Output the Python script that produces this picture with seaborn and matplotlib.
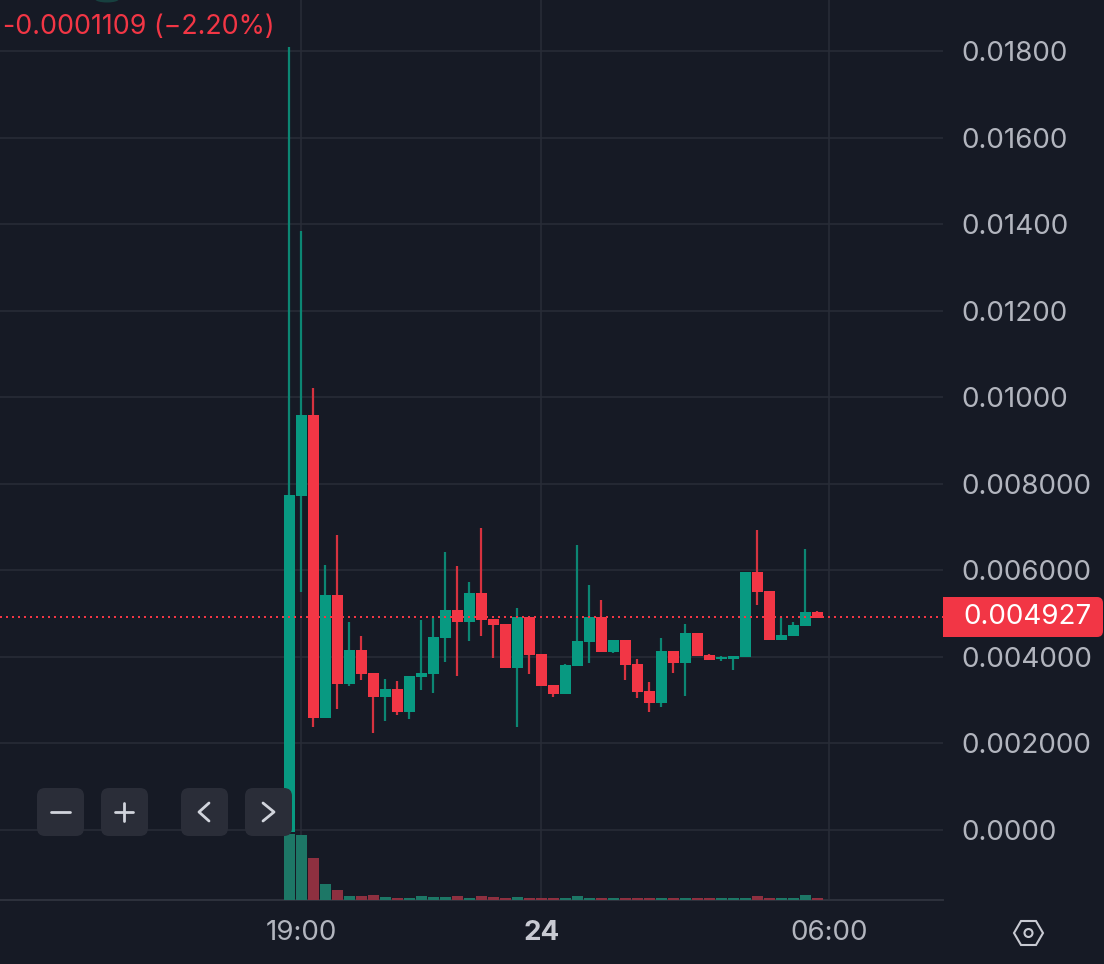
import numpy as np
import pandas as pd
import matplotlib
matplotlib.use("Agg")
import matplotlib.pyplot as plt
from matplotlib.patches import FancyBboxPatch, Polygon, Circle, Ellipse, PathPatch
from matplotlib.path import Path
import seaborn as sns

# prices in thousandths
high = [18.09,13.84,10.21,6.12,6.82,4.81,4.48,3.63,3.49,3.44,3.56,4.85,4.92,6.42,6.10,5.73,6.98,4.875,4.76,5.13,4.92,4.07,3.35,3.84,6.585,5.66,5.31,4.39,4.39,3.95,3.42,4.44,4.14,4.76,4.55,4.07,4.02,4.02,5.96,6.93,5.52,4.92,4.81,6.49,5.06]
low = [-0.05,5.50,2.39,2.58,2.80,3.33,3.47,2.24,2.52,2.66,2.56,3.23,3.17,3.88,3.56,4.37,4.48,3.97,3.74,2.38,3.60,3.33,3.07,3.14,3.79,3.86,4.11,4.09,3.47,3.05,2.73,2.84,3.63,3.10,4.02,3.93,3.90,3.70,4.00,5.20,4.39,4.39,4.48,4.71,4.90]
opens = [-0.05,7.72,9.59,2.59,5.43,3.37,4.16,3.63,3.07,3.26,2.73,3.54,3.60,4.44,5.08,4.81,5.48,4.875,4.76,3.74,4.92,4.07,3.35,3.14,3.79,4.34,4.92,4.11,4.39,3.84,3.21,2.93,4.14,3.86,4.55,4.04,3.95,3.95,4.00,5.96,5.52,4.39,4.48,4.71,5.04]
closes = [7.74,9.59,2.59,5.43,3.37,4.16,3.60,3.07,3.26,2.73,3.56,3.63,4.46,5.08,4.81,5.48,4.85,4.74,3.74,4.92,4.04,3.33,3.14,3.81,4.37,4.92,4.11,4.39,3.81,3.19,2.93,4.14,3.86,4.55,4.02,3.93,4.00,4.02,5.96,5.50,4.39,4.51,4.74,5.04,4.90]
volume = [66,65,42,16,10,4,4,5,3,2,2,4,3,3,4,2,4,3,2,3,2,2,2,2,3.3,2,2,2,2,2,2,2,2,2,2,2,2,2,2,3.5,2,2,2,4.5,2]
y_ticks = [0,2,4,6,8,10,12,14,16,18]
y_labels = ["0.0000","0.002000","0.004000","0.006000","0.008000","0.01000","0.01200","0.01400","0.01600","0.01800"]
x_ticks = [1,21,45]
x_labels = ["19:00","24","06:00"]
last_price = 4.927
last_label = "0.004927"
header = "-0.0001109 (−2.20%)"

BG = "#161a25"; GRID = "#292d38"; UP = "#089981"; DOWN = "#f23645"
UPV = "#1d7766"; DOWNV = "#8e3040"; TXT = "#b2b5be"
W, H = 1104, 964

sns.set_theme(style="darkgrid", rc={"axes.facecolor": BG, "figure.facecolor": BG,
    "grid.color": GRID, "grid.linewidth": 1.1, "axes.edgecolor": "#2a2e39"})
plt.rcParams["font.family"] = ["Inter", "DejaVu Sans"]

df = pd.DataFrame(dict(idx=np.arange(len(opens)), o=opens, c=closes, h=high, l=low, vol=volume))
df["dir"] = np.where(df.c >= df.o, "up", "down")
df["body"] = (df.c - df.o).abs()
df["base"] = df[["o", "c"]].min(axis=1)

fig = plt.figure(figsize=(W/100, H/100), dpi=100)
ax = fig.add_axes([0, 1-900/H, 943/W, 900/H])
ax.set_axisbelow(True)
xlim = (-289.5/12, (943-289.5)/12)
ylim = (-70/43.28, 830/43.28)

for d, col, wick in (("up", UP, "#0c8673"), ("down", DOWN, "#d7323f")):
    s = df[df.dir == d]
    ax.vlines(s.idx, s.l, s.h, color=wick, lw=1.6, zorder=2)
    ax.bar(s.idx, s.body, bottom=s.base, width=0.86, color=col, zorder=3, linewidth=0)

ax.axhline(last_price, color=DOWN, lw=1.44, linestyle=(0, (1, 2)), zorder=4, dash_capstyle="butt")

ax.set_xlim(*xlim); ax.set_ylim(*ylim)
ax.yaxis.tick_right()
ax.set_yticks(y_ticks); ax.set_yticklabels(y_labels)
ax.set_xticks(x_ticks); ax.set_xticklabels(x_labels)
ax.tick_params(axis="y", length=0, pad=13, labelsize=20, labelcolor=TXT)
ax.tick_params(axis="x", length=0, pad=14.5, labelsize=20, labelcolor=TXT)
ax.get_xticklabels()[1].set_fontweight("bold")
ax.get_xticklabels()[1].set_color("#c8cad2")
ax.set_xlabel(""); ax.set_ylabel("")
for n in ("top", "left", "right"):
    ax.spines[n].set_visible(False)
ax.spines["bottom"].set_color("#2e323d"); ax.spines["bottom"].set_linewidth(1.4)

ax2 = fig.add_axes(ax.get_position(), sharex=None)
ax2.patch.set_alpha(0)
sns.barplot(data=df, x="idx", y="vol", hue="dir", hue_order=["up", "down"],
            palette={"up": UPV, "down": DOWNV}, native_scale=True, dodge=False,
            width=0.86, saturation=1, legend=False, ax=ax2, linewidth=0, zorder=5)
ax2.set_xlim(*xlim); ax2.set_ylim(-0.5, 899.5)
ax2.axis("off")

ov = fig.add_axes([0, 0, 1, 1], zorder=10)
ov.set_xlim(0, W); ov.set_ylim(H, 0); ov.axis("off"); ov.patch.set_alpha(0)

# header and price tag
ov.text(3, 27.5, header, color=DOWN, fontsize=19.3, va="center", ha="left")
ov.add_patch(Ellipse((107, -1), 24, 7, color="#17403f", lw=0))
verts = [(943,597),(1097,597),(1103,597),(1103,603),(1103,631),(1103,637),(1097,637),(943,637),(943,597)]
codes = [Path.MOVETO,Path.LINETO,Path.CURVE3,Path.CURVE3,Path.LINETO,Path.CURVE3,Path.CURVE3,Path.LINETO,Path.CLOSEPOLY]
ov.add_patch(PathPatch(Path(verts, codes), fc=DOWN, lw=0))
ov.text(963, 617.5, last_label, color="white", fontsize=20, va="center", ha="left")

# zoom / scroll buttons
for x0 in (37, 101, 181, 245):
    ov.add_patch(FancyBboxPatch((x0+8, 788+8), 47-16, 48-16, boxstyle="round,pad=8,rounding_size=8",
                                fc="#2a2d38", ec="none"))
ic = dict(color="#d1d4dc", lw=2.0, solid_capstyle="round", solid_joinstyle="round")
ov.plot([51, 70], [812, 812], **ic)
ov.plot([115, 133], [812, 812], **ic); ov.plot([124, 124], [803, 821], **ic)
ov.plot([209, 199, 209], [803, 812, 821], **ic)
ov.plot([263, 274, 263], [803, 812, 821], **ic)

# settings icon
ov.add_patch(Polygon([(1014,933),(1021,921),(1036,921),(1043,933),(1036,945),(1021,945)],
                     closed=True, fill=False, ec="#c8cad2", lw=1.5))
ov.add_patch(Circle((1028.5, 933), 4, fill=False, ec="#c8cad2", lw=1.5))

fig.savefig("out.png", dpi=100, facecolor=BG)
